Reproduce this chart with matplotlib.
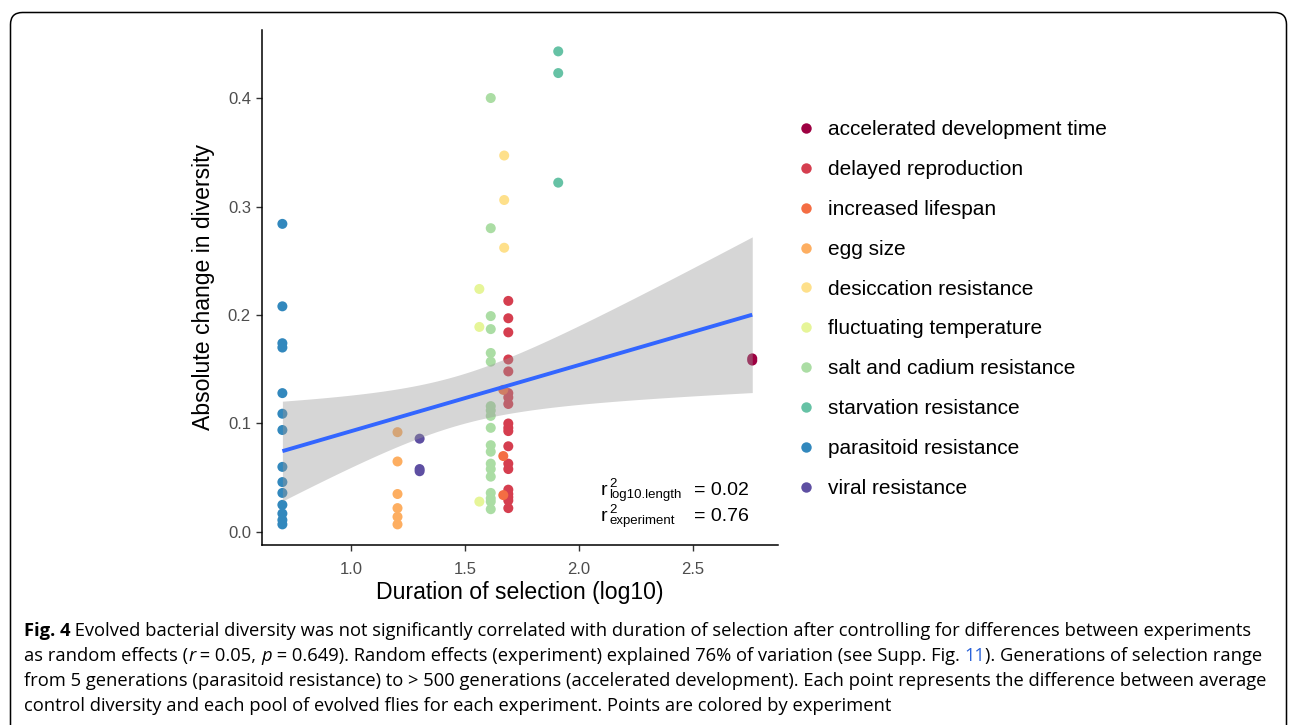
import numpy as np
import matplotlib
matplotlib.use("Agg")
import matplotlib.pyplot as plt
from matplotlib.patches import FancyBboxPatch
from matplotlib.lines import Line2D

# ---------------- data ----------------
experiments = [
    "accelerated development time", "delayed reproduction", "increased lifespan",
    "egg size", "desiccation resistance", "fluctuating temperature",
    "salt and cadium resistance", "starvation resistance",
    "parasitoid resistance", "viral resistance",
]
colors = ["#9E0142", "#D53E4F", "#F46D43", "#FDAE61", "#FEE08B",
          "#E6F598", "#ABDDA4", "#66C2A5", "#3288BD", "#5E4FA2"]
duration_log10 = [2.76, 1.69, 1.668, 1.204, 1.672, 1.563, 1.613, 1.909, 0.699, 1.301]

accelerated = [0.160, 0.158]
delayed = [0.213, 0.197, 0.184, 0.159, 0.148, 0.128, 0.124, 0.118, 0.100, 0.096,
           0.093, 0.079, 0.063, 0.058, 0.039, 0.035, 0.032, 0.029, 0.022]
lifespan = [0.131, 0.070, 0.034]
egg = [0.092, 0.065, 0.035, 0.022, 0.014, 0.007]
desiccation = [0.347, 0.306, 0.262]
fluctuating = [0.224, 0.189, 0.028]
salt = [0.400, 0.280, 0.199, 0.187, 0.165, 0.157, 0.116, 0.112, 0.107, 0.096,
        0.080, 0.074, 0.063, 0.058, 0.051, 0.036, 0.031, 0.028, 0.021]
starvation = [0.443, 0.423, 0.322]
parasitoid = [0.284, 0.208, 0.174, 0.170, 0.128, 0.109, 0.094, 0.060, 0.046,
              0.036, 0.025, 0.017, 0.011, 0.007]
viral = [0.086, 0.058, 0.056]
values = [accelerated, delayed, lifespan, egg, desiccation, fluctuating,
          salt, starvation, parasitoid, viral]

x_ticks = [1.0, 1.5, 2.0, 2.5]
y_ticks = [0.0, 0.1, 0.2, 0.3, 0.4]
r2_subscripts = ["log10.length", "experiment"]
r2_values = ["= 0.02", "= 0.76"]

# ---------------- style ----------------
plt.rcParams["font.family"] = ["Liberation Sans", "DejaVu Sans"]

W, H = 1290, 725
fig = plt.figure(figsize=(W / 100, H / 100), dpi=100)
fig.patch.set_facecolor("white")

# rounded frame
frame = FancyBboxPatch((10.5, -30), 1276, 742.5,
                       boxstyle="round,pad=0,rounding_size=12",
                       transform=None, fill=False, edgecolor="black", linewidth=1.1)
fig.add_artist(frame)

ax = fig.add_axes([262 / W, 1 - 545 / H, (778 - 262) / W, (545 - 30) / H])
ax.set_xlim(0.6096, 2.873)
ax.set_ylim(-0.012, 0.4627)

# points
for name, col, xd, vals in zip(experiments, colors, duration_log10, values):
    ax.scatter(np.full(len(vals), xd), vals, s=52, color=col, edgecolors="none",
               zorder=2, label=name)

# linear fit with 95% CI
x_all = np.concatenate([np.full(len(v), xd) for xd, v in zip(duration_log10, values)])
y_all = np.concatenate(values)
n = len(x_all)
slope, intercept = np.polyfit(x_all, y_all, 1)
resid = y_all - (slope * x_all + intercept)
s_err = np.sqrt(np.sum(resid ** 2) / (n - 2))
xbar = x_all.mean()
sxx = np.sum((x_all - xbar) ** 2)
xs = np.linspace(x_all.min(), x_all.max(), 80)
ys = slope * xs + intercept
t_crit = 1.994
half = t_crit * s_err * np.sqrt(1 / n + (xs - xbar) ** 2 / sxx)
ax.fill_between(xs, ys - half, ys + half, color="#999999", alpha=0.4,
                linewidth=0, zorder=3)
ax.plot(xs, ys, color="#3366FF", linewidth=2.8, zorder=4, solid_capstyle="butt")

# axes styling (classic)
for sp in ["top", "right"]:
    ax.spines[sp].set_visible(False)
for sp in ["left", "bottom"]:
    ax.spines[sp].set_linewidth(1.1)
    ax.spines[sp].set_color("black")
ax.set_xticks(x_ticks)
ax.set_yticks(y_ticks)
ax.set_xticklabels([f"{t:.1f}" for t in x_ticks])
ax.set_yticklabels([f"{t:.1f}" for t in y_ticks])
ax.tick_params(axis="both", direction="out", length=4, width=1.0, color="#333333",
               labelcolor="#4D4D4D", labelsize=12, pad=4)
ax.tick_params(axis="x", pad=8)
ax.set_xlabel("Duration of selection (log10)", fontsize=16.6, color="black", labelpad=3)
ax.set_ylabel("Absolute change in diversity", fontsize=16.6, color="black", labelpad=9)

# r2 annotation (r, superscript 2, subscript, value)
for i, (sub, val) in enumerate(zip(r2_subscripts, r2_values)):
    base = 495 + 26 * i
    fig.text(601 / W, 1 - base / H, "r", fontsize=14, va="baseline", ha="left")
    fig.text(609 / W, 1 - (base - 8) / H, "2", fontsize=9.5, va="baseline", ha="left")
    fig.text(609 / W, 1 - (base + 3) / H, sub, fontsize=9.5, va="baseline", ha="left")
    fig.text(694 / W, 1 - base / H, val, fontsize=14, va="baseline", ha="left")

# legend
handles = [Line2D([0], [0], marker="o", linestyle="none", markersize=7.5,
                  markerfacecolor=c, markeredgecolor="none") for c in colors]
fig.legend(handles, experiments, loc="upper left",
           bbox_to_anchor=(787 / W, 1 - 112 / H), frameon=False,
           fontsize=15, labelspacing=1.0, handletextpad=0.55,
           handlelength=1.0, borderaxespad=0)

# caption
renderer = fig.canvas.get_renderer()
cap_font = ["Open Sans", "DejaVu Sans"]
cap_size = 13.25
link_color = "#2A62D9"
caption_lines = [
    [("Fig. 4", "bold", "normal", "black"),
     (" Evolved bacterial diversity was not significantly correlated with duration of selection after controlling for differences between experiments", "normal", "normal", "black")],
    [("as random effects (", "normal", "normal", "black"),
     ("r", "normal", "italic", "black"),
     (" = 0.05, ", "normal", "normal", "black"),
     ("p", "normal", "italic", "black"),
     (" = 0.649). Random effects (experiment) explained 76% of variation (see Supp. Fig. ", "normal", "normal", "black"),
     ("11", "normal", "normal", link_color),
     ("). Generations of selection range", "normal", "normal", "black")],
    [("from 5 generations (parasitoid resistance) to > 500 generations (accelerated development). Each point represents the difference between average", "normal", "normal", "black")],
    [("control diversity and each pool of evolved flies for each experiment. Points are colored by experiment", "normal", "normal", "black")],
]
line_y = [631, 656, 681, 706]
for segs, py in zip(caption_lines, line_y):
    x_px = 24.0
    for txt, wt, st, col in segs:
        t = fig.text(x_px / W, 1 - py / H, txt, fontsize=cap_size, family=cap_font,
                     weight=wt, style=st, color=col, va="center", ha="left")
        bb = t.get_window_extent(renderer=renderer)
        x_px += bb.width

fig.savefig("out.png", dpi=100, facecolor="white")
